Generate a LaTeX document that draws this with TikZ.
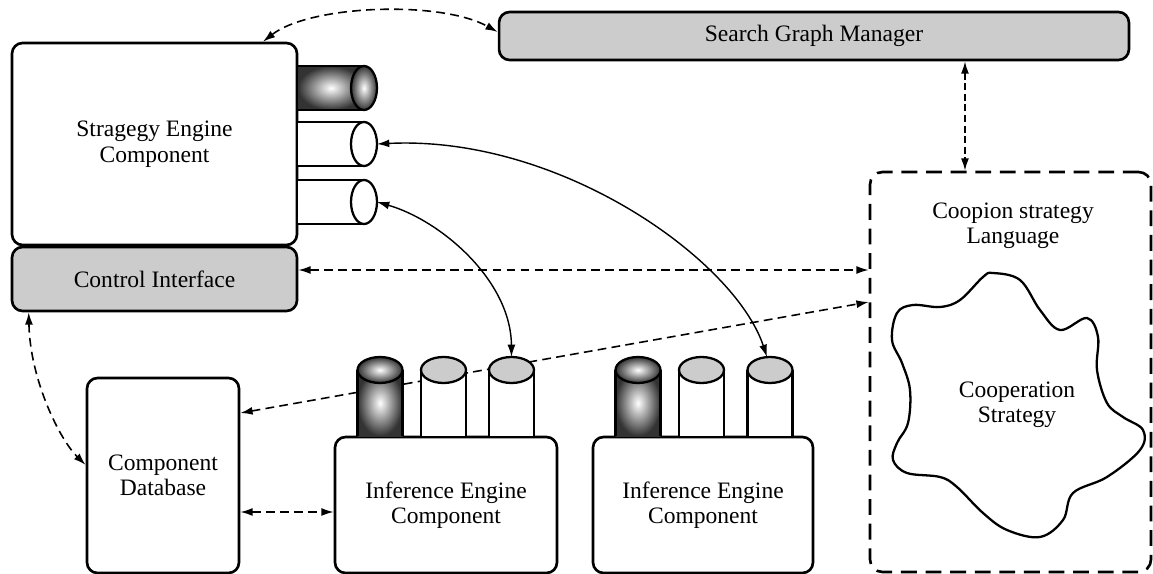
\documentclass[tikz,border=0pt]{standalone}
\usepackage{fontspec}
\setmainfont{Liberation Serif}
\usetikzlibrary{arrows.meta}
\definecolor{boxgray}{HTML}{CCCCCC}
\definecolor{tubedark}{HTML}{333333}

\begin{document}
\begin{tikzpicture}[x=0.02cm, y=-0.02cm,
    part/.style={draw, line width=1.5pt, rounded corners=6pt, align=center,
      font=\fontsize{13.4}{14.5}\selectfont, inner sep=0pt},
    txt/.style={align=center, font=\fontsize{13.4}{14.5}\selectfont},
    dlink/.style={{Latex[length=7pt,width=4.5pt]}-{Latex[length=7pt,width=4.5pt]}, line width=0.9pt, dash pattern=on 5pt off 3pt},
    slink/.style={{Latex[length=7pt,width=4.5pt]}-{Latex[length=7pt,width=4.5pt]}, line width=0.8pt},
    tube/.style={line width=1.3pt}]
  \useasboundingbox[fill=white] (0,0) rectangle (1153,574);

  % boxes
  \node[part, minimum width=5.7cm, minimum height=4.04cm] (strat) at (154.5,144) {Stragegy Engine\\Component};
  \node[part, fill=boxgray, minimum width=5.7cm, minimum height=1.28cm] (ctrl) at (154.5,279) {Control Interface};
  \node[part, fill=boxgray, minimum width=12.6cm, minimum height=0.96cm] (sgm) at (814,36) {Search Graph Manager};
  \node[part, dash pattern=on 9pt off 5pt, rounded corners=7pt, minimum width=5.62cm, minimum height=8cm] (coop) at (1010.5,372) {};
  \node[part, minimum width=3.04cm, minimum height=3.9cm] (cdb) at (163,475.5) {Component\\Database};
  \node[part, minimum width=4.44cm, minimum height=2.72cm] (ie1) at (446,505) {Inference Engine\\Component};
  \node[part, minimum width=4.4cm, minimum height=2.72cm] (ie2) at (703,505) {Inference Engine\\Component};

  \node[txt] (coopt) at (1013,226) {Coopion strategy\\Language};
  \draw[line width=1.3pt] plot[smooth cycle, tension=0.6] coordinates {
    (993,273) (1020,280) (1040,310) (1060,330) (1087,318) (1098,337)
    (1097,370) (1107,403) (1123,417) (1143,430) (1140,450) (1107,477)
    (1073,493) (1063,520) (1040,537) (1007,530) (983,513) (957,487)
    (940,477) (907,473) (893,460) (897,443) (908,423) (910,390)
    (902,363) (892,340) (897,313) (913,305) (940,307) (960,300) (983,277)};
  \node[txt] (coops) at (1017,405) {Cooperation\\Strategy};

  % this one runs behind the tubes
  \draw[dlink] ([yshift=1.25cm]cdb.east) -- ([yshift=1.4cm]coop.west);

  % tubes on the strategy engine
  \shade[inner color=white, outer color=tubedark] (298,66) rectangle (364,110);
  \draw[tube] (298,66) -- (364,66) (298,110) -- (364,110);
  \shadedraw[tube, inner color=white, outer color=tubedark] (364,88) ellipse [x radius=0.26cm, y radius=0.44cm];
  \foreach \cy in {144,202}{
    \fill[white] (298,\cy-22) rectangle (364,\cy+22);
    \draw[tube] (298,\cy-22) -- (364,\cy-22) (298,\cy+22) -- (364,\cy+22);
    \filldraw[tube, fill=white] (364,\cy) ellipse [x radius=0.26cm, y radius=0.44cm];
  }

  % tubes on the inference engines
  \foreach \cx in {380,638}{
    \shade[inner color=white, outer color=tubedark] (\cx-22.5,370) rectangle (\cx+22.5,436);
    \draw[tube] (\cx-22.5,370) -- (\cx-22.5,436) (\cx+22.5,370) -- (\cx+22.5,436);
    \shadedraw[tube, inner color=white, outer color=tubedark] (\cx,370) ellipse [x radius=0.45cm, y radius=0.26cm];
  }
  \foreach \cx in {443.5,511.5,701.5,770}{
    \fill[white] (\cx-22.5,370) rectangle (\cx+22.5,436);
    \draw[tube] (\cx-22.5,370) -- (\cx-22.5,436) (\cx+22.5,370) -- (\cx+22.5,436);
    \filldraw[tube, fill=boxgray] (\cx,370) ellipse [x radius=0.45cm, y radius=0.26cm];
  }

  \coordinate (sp2) at (377,144);
  \coordinate (sp3) at (377,202);
  \coordinate (ip13) at (511.5,357);
  \coordinate (ip23) at (767,357);

  % links
  \draw[dlink] ([xshift=2.17cm]strat.north) .. controls (310,5) and (440,0) .. ([yshift=0.08cm]sgm.west);
  \draw[dlink, dash pattern=on 4pt off 2pt] ([xshift=3.02cm]sgm.south) -- ([xshift=3.02cm]sgm.south |- coop.north);
  \draw[dlink] ([yshift=0.18cm]ctrl.east) -- ([yshift=0.18cm]ctrl.east -| coop.west);
  \draw[dlink] ([xshift=0.36cm]ctrl.south west) .. controls (30,380) and (60,440) .. ([yshift=0.21cm]cdb.west);
  \draw[dlink] ([yshift=-0.73cm]cdb.east) -- ([yshift=-0.73cm]cdb.east -| ie1.west);
  \draw[slink] (sp2) .. controls (560,135) and (735,260) .. (ip23);
  \draw[slink] (sp3) .. controls (440,220) and (511,280) .. (ip13);
\end{tikzpicture}
\end{document}
